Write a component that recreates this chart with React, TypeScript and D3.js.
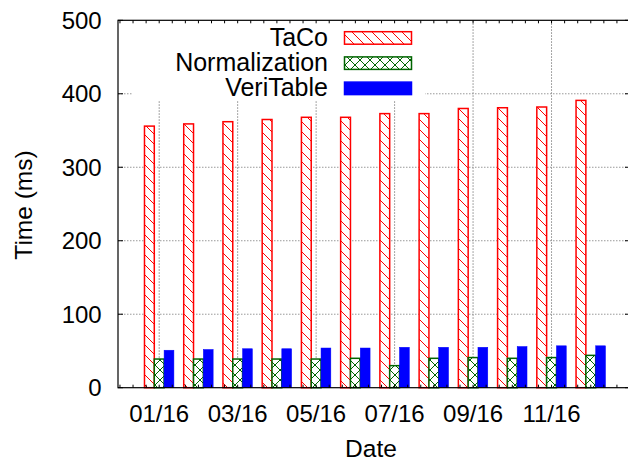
import React from "react";
import { scaleLinear, range } from "d3";

// monthly timings
const dates = ["01/16", "02/16", "03/16", "04/16", "05/16", "06/16", "07/16", "08/16", "09/16", "10/16", "11/16", "12/16"];
const taco = [356, 359, 362, 365, 368, 368, 373, 373, 380, 381, 382, 391];
const normalization = [39, 39, 39, 39, 39, 40, 30, 40, 41, 40, 41, 44];
const veriTable = [51, 52, 53, 53, 54, 54, 55, 55, 55, 56, 57, 57];
const yTicks = [0, 100, 200, 300, 400, 500];
const seriesNames = ["TaCo", "Normalization", "VeriTable"];

const W = 628;
const H = 463;
const left = 118;
const right = 630;
const top = 20.3;
const bottom = 387.7;
const font = "'Liberation Sans', Arial, Helvetica, sans-serif";

const x = scaleLinear().domain([-1.05, 12]).range([left, right]);
const y = scaleLinear().domain([0, 500]).range([bottom, top]);
const catW = x(1) - x(0);
const barW = catW * 0.25;

const series = [
  { name: seriesNames[0], values: taco, fill: "url(#hatch)", stroke: "#ff0000" },
  { name: seriesNames[1], values: normalization, fill: "url(#cross)", stroke: "#006400" },
  { name: seriesNames[2], values: veriTable, fill: "#0000ff", stroke: "#0000ff" },
];

export default function App() {
  const minor = range(-3, 36).map((k) => k / 3).filter((v) => x(v) > left + 1 && x(v) < right - 1);
  const labeled = dates.map((d, i) => i).filter((i) => i % 2 === 0);

  return (
    <svg width={W} height={H} style={{ position: "absolute", left: 0, top: 0, background: "#fff" }} fontFamily={font}>
      <defs>
        <pattern id="hatch" patternUnits="userSpaceOnUse" width={10} height={10}>
          <rect width={10} height={10} fill="#fff" />
          <path d="M0,0 L10,10 M-2,8 L2,12 M8,-2 L12,2" stroke="#ff0000" strokeWidth={1} />
        </pattern>
        <pattern id="cross" patternUnits="userSpaceOnUse" width={10} height={10}>
          <rect width={10} height={10} fill="#fff" />
          <path d="M0,0 L10,10 M10,0 L0,10" stroke="#006400" strokeWidth={1} />
        </pattern>
      </defs>

      {/* grid */}
      {yTicks.filter((t) => t > 0 && t < 500).map((t) => (
        <line key={"gy" + t} x1={left} x2={right} y1={y(t)} y2={y(t)} stroke="#999" strokeDasharray="1.5,1.5" />
      ))}
      {labeled.map((i) => (
        <line key={"gx" + i} x1={x(i)} x2={x(i)} y1={top} y2={bottom} stroke="#888" strokeDasharray="1.5,1.5" />
      ))}

      {/* legend box hides the grid behind it */}
      <rect x={132} y={21} width={293} height={79} fill="#fff" />
      {series.map((s, j) => (
        <g key={"lg" + j}>
          <text x={328} y={45.7 + j * 25.3} fontSize={25} textAnchor="end">{s.name}</text>
          <rect x={344.5} y={31.7 + j * 25.2} width={67} height={12.5} fill={s.fill} stroke={s.stroke} strokeWidth={1.5} />
        </g>
      ))}

      {/* bars */}
      {series.map((s, j) =>
        s.values.map((v, i) => {
          const cx = x(i) + (j - 1) * barW;
          return (
            <rect
              key={s.name + i}
              x={cx - barW / 2}
              y={y(v)}
              width={barW}
              height={y(0) - y(v)}
              fill={s.fill}
              stroke={s.stroke}
              strokeWidth={j === 2 ? 0.5 : 1.5}
            />
          );
        })
      )}

      {/* frame and ticks */}
      <rect x={left} y={top} width={right - left} height={bottom - top} fill="none" stroke="#000" strokeWidth={1.2} />
      {yTicks.map((t) => (
        <g key={"yt" + t}>
          <line x1={left} x2={left + 5} y1={y(t)} y2={y(t)} stroke="#000" />
          <line x1={right} x2={right - 5} y1={y(t)} y2={y(t)} stroke="#000" />
          <text x={101.7} y={y(t)} dy="0.36em" fontSize={24} textAnchor="end">{t}</text>
        </g>
      ))}
      {minor.map((v, k) => (
        <g key={"mt" + k}>
          <line x1={x(v)} x2={x(v)} y1={bottom} y2={bottom - 3} stroke="#000" />
          <line x1={x(v)} x2={x(v)} y1={top} y2={top + 3} stroke="#000" />
        </g>
      ))}
      {labeled.map((i) => (
        <text key={"xl" + i} x={x(i)} y={422} fontSize={24} textAnchor="middle">{dates[i]}</text>
      ))}

      <text x={371} y={457} fontSize={24.5} textAnchor="middle">Date</text>
      <text transform="translate(32,205) rotate(-90)" fontSize={24.5} textAnchor="middle">Time (ms)</text>
    </svg>
  );
}
